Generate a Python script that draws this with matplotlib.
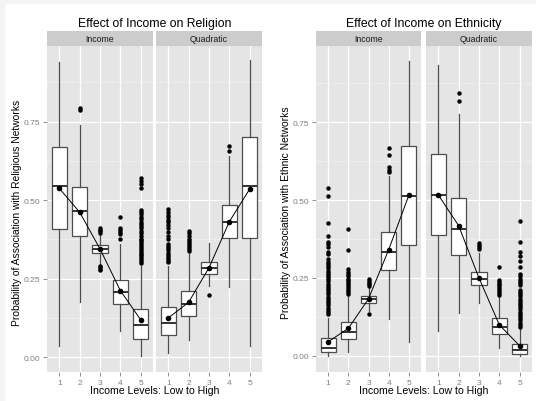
import matplotlib
matplotlib.use("Agg")
import matplotlib.pyplot as plt
from matplotlib.patches import Rectangle

plt.rcParams['font.family'] = ['Liberation Sans', 'DejaVu Sans']

levels = [1, 2, 3, 4, 5]
facets = ['Income', 'Quadratic']
yticks = [0.0, 0.25, 0.5, 0.75]
ytick_labels = ['0.00', '0.25', '0.50', '0.75']

# (whisker low, q1, median, q3, whisker high) per income level
rel_income_box = [(0.037, 0.409, 0.546, 0.669, 0.939),
                  (0.177, 0.387, 0.465, 0.541, 0.738),
                  (0.295, 0.332, 0.345, 0.358, 0.395),
                  (0.085, 0.170, 0.209, 0.247, 0.362),
                  (0.005, 0.058, 0.103, 0.154, 0.292)]
rel_income_mean = [0.538, 0.462, 0.345, 0.212, 0.119]
rel_income_out = [[],
                  [0.795, 0.788],
                  [0.41, 0.405, 0.401, 0.397, 0.292, 0.287, 0.282, 0.278],
                  [0.448, 0.412, 0.405, 0.398, 0.392, 0.378],
                  [0.572, 0.562, 0.551, 0.54, 0.47, 0.462, 0.455, 0.447, 0.44,
                   0.432, 0.425, 0.418, 0.41, 0.403, 0.395, 0.385, 0.378, 0.372,
                   0.366, 0.36, 0.354, 0.348, 0.342, 0.336, 0.33, 0.324, 0.318,
                   0.312, 0.306, 0.30]]

rel_quad_box = [(0.014, 0.071, 0.109, 0.159, 0.292),
                (0.056, 0.131, 0.170, 0.212, 0.329),
                (0.228, 0.264, 0.283, 0.302, 0.364),
                (0.223, 0.379, 0.430, 0.485, 0.642),
                (0.037, 0.380, 0.545, 0.701, 0.945)]
rel_quad_mean = [0.125, 0.175, 0.285, 0.432, 0.536]
rel_quad_out = [[0.472, 0.462, 0.452, 0.445, 0.438, 0.43, 0.42, 0.41, 0.398,
                 0.385, 0.375, 0.362, 0.355, 0.348, 0.34, 0.333, 0.326, 0.32,
                 0.314, 0.308, 0.302],
                [0.403, 0.395, 0.385, 0.376, 0.37, 0.364, 0.358, 0.351, 0.345, 0.339],
                [0.199],
                [0.674, 0.658],
                []]

eth_income_box = [(0.0, 0.011, 0.025, 0.056, 0.123),
                  (0.011, 0.054, 0.078, 0.109, 0.193),
                  (0.145, 0.169, 0.182, 0.191, 0.220),
                  (0.118, 0.275, 0.332, 0.398, 0.578),
                  (0.043, 0.357, 0.514, 0.673, 0.948)]
eth_income_mean = [0.045, 0.088, 0.183, 0.341, 0.516]
eth_income_out = [[0.538, 0.514, 0.426, 0.385, 0.366, 0.358, 0.35, 0.332, 0.328,
                   0.31, 0.30, 0.295, 0.288, 0.281, 0.274, 0.267, 0.26, 0.253,
                   0.246, 0.239, 0.232, 0.225, 0.218, 0.211, 0.204, 0.197, 0.19,
                   0.183, 0.176, 0.169, 0.162, 0.155, 0.148, 0.141, 0.134],
                  [0.407, 0.341, 0.278, 0.27, 0.262, 0.255, 0.248, 0.242, 0.236,
                   0.23, 0.224, 0.218, 0.212, 0.206, 0.2],
                  [0.246, 0.24, 0.235, 0.23, 0.225, 0.134],
                  [0.666, 0.645, 0.605, 0.598, 0.589],
                  []]

eth_quad_box = [(0.080, 0.388, 0.517, 0.648, 0.934),
                (0.139, 0.324, 0.407, 0.508, 0.777),
                (0.169, 0.227, 0.246, 0.268, 0.330),
                (0.024, 0.070, 0.094, 0.120, 0.190),
                (0.0, 0.006, 0.018, 0.038, 0.088)]
eth_quad_mean = [0.517, 0.418, 0.25, 0.099, 0.032]
eth_quad_out = [[],
                [0.843, 0.819],
                [0.362, 0.355, 0.349, 0.343],
                [0.284, 0.244, 0.238, 0.232, 0.226, 0.22, 0.214, 0.208, 0.202, 0.196],
                [0.432, 0.366, 0.335, 0.32, 0.305, 0.285, 0.262, 0.255, 0.248,
                 0.24, 0.234, 0.226, 0.212, 0.205, 0.198, 0.191, 0.184, 0.177,
                 0.17, 0.163, 0.156, 0.149, 0.142, 0.135, 0.128, 0.121, 0.114,
                 0.107, 0.1, 0.094]]

W, H = 536, 402
fig = plt.figure(figsize=(W / 100, H / 100), dpi=100)
fig.patches.append(Rectangle((0, 1 - 4 / H), 1, 4 / H, transform=fig.transFigure,
                             color='#f4f4f4', zorder=-1))
fig.patches.append(Rectangle((0, 0), 4 / W, 1, transform=fig.transFigure,
                             color='#f4f4f4', zorder=-1))


def px_axes(x0, y0, x1, y1):
    return fig.add_axes([x0 / W, 1 - y1 / H, (x1 - x0) / W, (y1 - y0) / H])


def draw_panel(ax, boxes, means, outs, ylim, first):
    ax.set_facecolor('#e5e5e5')
    stats = [dict(whislo=b[0], q1=b[1], med=b[2], q3=b[3], whishi=b[4], fliers=f)
             for b, f in zip(boxes, outs)]
    ax.bxp(stats, positions=levels, widths=0.75, showcaps=False, patch_artist=True,
           boxprops=dict(facecolor='white', edgecolor='#4d4d4d', linewidth=0.9),
           medianprops=dict(color='#333333', linewidth=1.4),
           whiskerprops=dict(color='#4d4d4d', linewidth=0.9),
           flierprops=dict(marker='o', markerfacecolor='black',
                           markeredgecolor='none', markersize=3.2))
    ax.plot(levels, means, color='black', lw=0.7, marker='o', ms=3.0, zorder=5)
    ax.set_xlim(0.4, 5.6)
    ax.set_ylim(*ylim)
    ax.set_xticks(levels)
    ax.set_xticklabels([str(v) for v in levels])
    ax.set_yticks(yticks)
    ax.set_yticks([0.125, 0.375, 0.625, 0.875], minor=True)
    ax.set_yticklabels(ytick_labels)
    ax.set_axisbelow(True)
    ax.grid(which='major', color='white', lw=0.9)
    ax.grid(which='minor', axis='y', color='#f2f2f2', lw=0.5)
    for s in ax.spines.values():
        s.set_visible(False)
    ax.tick_params(which='major', labelsize=6, colors='#7f7f7f', length=3, width=0.6, pad=2)
    ax.tick_params(which='minor', length=0)
    if not first:
        ax.tick_params(axis='y', left=False, labelleft=False)


def draw_chart(x_panels, ylim, title, ylabel, data):
    for (x0, x1), name, (boxes, means, outs), i in zip(x_panels, facets, data, range(2)):
        ax = px_axes(x0, 46.7, x1, 372.7)
        draw_panel(ax, boxes, means, outs, ylim, i == 0)
        st = px_axes(x0, 32.3, x1, 46.7)
        st.set_facecolor('#cccccc')
        st.set_xticks([])
        st.set_yticks([])
        for s in st.spines.values():
            s.set_visible(False)
        st.text(0.5, 0.5, name, ha='center', va='center', fontsize=6.3, color='#1a1a1a',
                transform=st.transAxes)
    cx = (x_panels[0][0] + x_panels[1][1]) / 2
    fig.text(cx / W, 1 - 24.5 / H, title, ha='center', va='center', fontsize=8.8)
    fig.text(cx / W, 1 - 391.5 / H, 'Income Levels: Low to High', ha='center',
             va='center', fontsize=7.6)
    fig.text((x_panels[0][0] - 30) / W, 1 - 213 / H, ylabel, ha='center', va='center',
             rotation=90, fontsize=7.4)


draw_chart([(47, 153), (156, 262)], (-0.046, 0.992), 'Effect of Income on Religion',
           'Probability of Association with Religious Networks',
           [(rel_income_box, rel_income_mean, rel_income_out),
            (rel_quad_box, rel_quad_mean, rel_quad_out)])
draw_chart([(316, 421), (426, 532)], (-0.051, 0.996), 'Effect of Income on Ethnicity',
           'Probability of Association with Ethnic Networks',
           [(eth_income_box, eth_income_mean, eth_income_out),
            (eth_quad_box, eth_quad_mean, eth_quad_out)])

fig.savefig('out.png', dpi=100)
